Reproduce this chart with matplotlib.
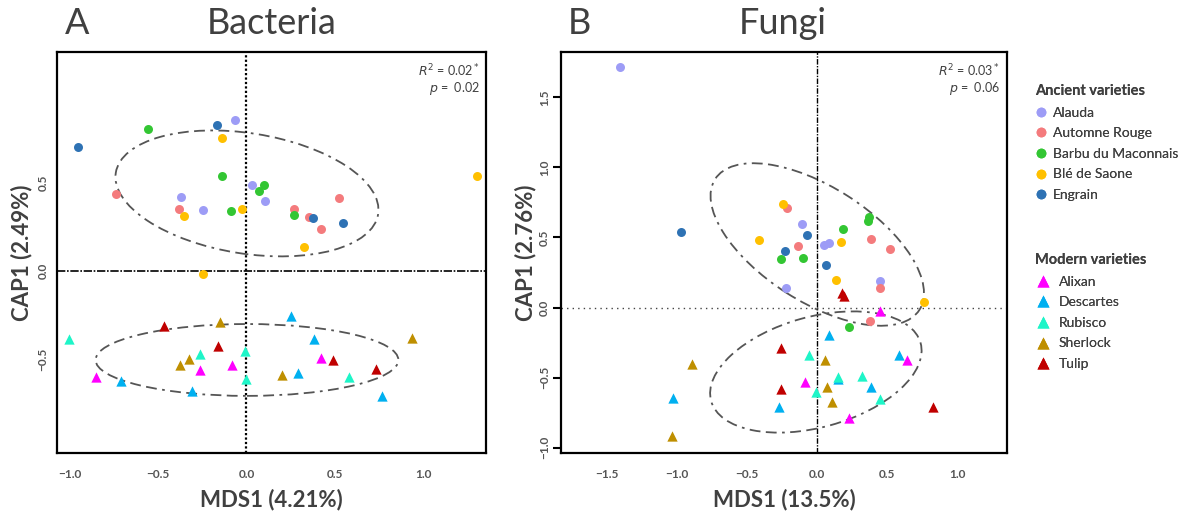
import matplotlib
matplotlib.use("Agg")
import matplotlib.pyplot as plt
from matplotlib.patches import Ellipse
from matplotlib.lines import Line2D

plt.rcParams['font.family'] = ['Lato', 'DejaVu Sans']

ancient = ['Alauda', 'Automne Rouge', 'Barbu du Maconnais', 'Blé de Saone', 'Engrain']
modern = ['Alixan', 'Descartes', 'Rubisco', 'Sherlock', 'Tulip']
colors = {
    'Alauda': '#9d9cf6', 'Automne Rouge': '#f47b7d', 'Barbu du Maconnais': '#33c633',
    'Blé de Saone': '#ffc000', 'Engrain': '#2e72b4',
    'Alixan': '#ff00ff', 'Descartes': '#00b0f0', 'Rubisco': '#1ef5c8',
    'Sherlock': '#bf8f00', 'Tulip': '#c00000',
}

# Bacteria (panel A)
bact_x = [-0.065, -0.37, -0.247, 0.029, 0.105,
          -0.739, -0.381, 0.267, 0.351, 0.421, 0.524,
          -0.556, -0.14, -0.089, 0.10, 0.072, 0.27,
          -0.14, -0.353, -0.025, 0.323, 1.304, -0.246,
          -0.954, -0.167, 0.376, 0.547,
          -0.849, -0.263, -0.084, 0.419,
          -0.711, -0.308, 0.251, 0.289, 0.383, 0.764,
          -1.001, -0.263, -0.007, -0.001, 0.577,
          -0.148, -0.374, -0.323, 0.202, 0.937,
          -0.468, -0.161, 0.49, 0.732]
bact_y = [0.855, 0.418, 0.345, 0.488, 0.397,
          0.437, 0.352, 0.348, 0.307, 0.237, 0.412,
          0.80, 0.537, 0.337, 0.486, 0.45, 0.318,
          0.75, 0.31, 0.352, 0.137, 0.538, -0.02,
          0.70, 0.825, 0.298, 0.273,
          -0.597, -0.557, -0.533, -0.49,
          -0.621, -0.676, -0.254, -0.574, -0.382, -0.706,
          -0.384, -0.471, -0.45, -0.612, -0.601,
          -0.29, -0.533, -0.495, -0.588, -0.38,
          -0.313, -0.424, -0.503, -0.552]
bact_grp = (['Alauda'] * 5 + ['Automne Rouge'] * 6 + ['Barbu du Maconnais'] * 6
            + ['Blé de Saone'] * 6 + ['Engrain'] * 4
            + ['Alixan'] * 4 + ['Descartes'] * 6 + ['Rubisco'] * 5
            + ['Sherlock'] * 5 + ['Tulip'] * 4)

# Fungi (panel B)
fung_x = [-1.409, -0.111, 0.048, 0.086, -0.226, 0.45,
          -0.214, -0.136, 0.381, 0.517, 0.45, 0.376,
          -0.261, -0.102, 0.184, 0.367, 0.36, 0.224,
          -0.243, -0.414, 0.169, 0.131, 0.76,
          -0.971, -0.071, -0.229, 0.06,
          0.445, 0.641, -0.086, 0.224,
          0.086, 0.584, 0.146, 0.381, -1.033, -0.276,
          -0.059, 0.15, 0.321, -0.009, 0.445,
          0.055, -0.895, 0.071, 0.105, -1.038,
          0.179, 0.19, -0.259, -0.257, 0.829]
fung_y = [1.714, 0.593, 0.446, 0.464, 0.141, 0.188,
          0.712, 0.436, 0.488, 0.421, 0.136, -0.097,
          0.346, 0.355, 0.56, 0.648, 0.62, -0.136,
          0.741, 0.484, 0.469, 0.198, 0.038,
          0.536, 0.521, 0.407, 0.305,
          -0.024, -0.374, -0.531, -0.786,
          -0.197, -0.338, -0.507, -0.569, -0.645, -0.712,
          -0.34, -0.493, -0.49, -0.602, -0.655,
          -0.374, -0.4, -0.569, -0.671, -0.919,
          0.103, 0.085, -0.288, -0.581, -0.707]
fung_grp = (['Alauda'] * 6 + ['Automne Rouge'] * 6 + ['Barbu du Maconnais'] * 6
            + ['Blé de Saone'] * 5 + ['Engrain'] * 4
            + ['Alixan'] * 4 + ['Descartes'] * 6 + ['Rubisco'] * 5
            + ['Sherlock'] * 5 + ['Tulip'] * 5)

# ellipses: centre x, centre y, semi-axis a, semi-axis b, angle (deg); ancient, modern
bact_ell = [(0.003, 0.438, 0.75, 0.34, -9), (0.003, -0.503, 0.855, 0.203, 0)]
fung_ell = [(0.0, 0.45, 0.866, 0.409, -32.6), (-0.01, -0.46, 0.776, 0.394, 15.5)]

txt_col = '#404040'
tick_col = '#555555'
fig = plt.figure(figsize=(12, 5.21), dpi=100)
axA = fig.add_axes([57 / 1200, 1 - 452.7 / 521, (486 - 57) / 1200, (452.7 - 52) / 521])
axB = fig.add_axes([561 / 1200, 1 - 452.7 / 521, (1007 - 561) / 1200, (452.7 - 52) / 521])


def draw(ax, xs, ys, grp, ells):
    for x, y, g in zip(xs, ys, grp):
        if g in ancient:
            ax.scatter(x, y, s=42, marker='o', color=colors[g], lw=0, zorder=3)
        else:
            ax.scatter(x, y, s=55, marker='^', color=colors[g], lw=0, zorder=3)
    for cx, cy, a, b, ang in ells:
        ax.add_patch(Ellipse((cx, cy), 2 * a, 2 * b, angle=ang, fill=False,
                             ec='#555555', lw=1.3, ls=(0, (6, 3, 6, 3, 1.5, 3)), zorder=2))
    for s in ax.spines.values():
        s.set_linewidth(1.6)
    ax.tick_params(axis='x', length=0, pad=12, labelsize=8.5, labelcolor=tick_col)


def style_yticks(ax):
    for lab in ax.get_yticklabels() + ax.get_xticklabels():
        lab.set_fontweight('bold')
    for lab in ax.get_yticklabels():
        lab.set_rotation(90)
        lab.set_va('center')


draw(axA, bact_x, bact_y, bact_grp, bact_ell)
axA.set_xlim(-1.07, 1.353)
axA.set_ylim(-1.027, 1.237)
axA.set_xticks([-1.0, -0.5, 0.0, 0.5, 1.0])
axA.set_yticks([-0.5, 0.0, 0.5])
axA.tick_params(axis='y', length=0, pad=6, labelsize=8.5, labelcolor=tick_col)
style_yticks(axA)
axA.axvline(0, color='k', lw=1.6, ls=(0, (1, 1)), zorder=1)
axA.axhline(0, color='k', lw=1.2, ls=(0, (5, 1, 1, 1)), zorder=1)
axA.text(0.985, 0.975, r'$R^2$ = 0.02$^*$', transform=axA.transAxes, ha='right', va='top',
         fontsize=9, color=txt_col)
axA.text(0.985, 0.93, r'$p$ =  0.02', transform=axA.transAxes, ha='right', va='top',
         fontsize=9, color=txt_col)
axA.set_xlabel('MDS1 (4.21%)', fontsize=16, fontweight='bold', color=txt_col, labelpad=6)
axA.set_ylabel('CAP1 (2.49%)', fontsize=16, fontweight='bold', color=txt_col, labelpad=4)

draw(axB, fung_x, fung_y, fung_grp, fung_ell)
axB.set_xlim(-1.83, 1.355)
axB.set_ylim(-1.036, 1.824)
axB.set_xticks([-1.5, -1.0, -0.5, 0.0, 0.5, 1.0])
axB.set_yticks([-1.0, -0.5, 0.0, 0.5, 1.0, 1.5])
axB.tick_params(axis='y', length=6, width=1.5, pad=2, labelsize=8.5, labelcolor=tick_col)
style_yticks(axB)
axB.axvline(0, color='k', lw=1.0, ls=(0, (4, 1, 1, 1)), zorder=1)
axB.axhline(0, color='#444444', lw=1.0, ls=(0, (1, 3)), zorder=1)
axB.text(0.985, 0.975, r'$R^2$ = 0.03$^*$', transform=axB.transAxes, ha='right', va='top',
         fontsize=9, color=txt_col)
axB.text(0.985, 0.93, r'$p$ =  0.06', transform=axB.transAxes, ha='right', va='top',
         fontsize=9, color=txt_col)
axB.set_xlabel('MDS1 (13.5%)', fontsize=16, fontweight='bold', color=txt_col, labelpad=6)
axB.set_ylabel('CAP1 (2.76%)', fontsize=16, fontweight='bold', color=txt_col, labelpad=2)

fig.text(65 / 1200, 1 - 24 / 521, 'A', fontsize=26, color=txt_col, va='center')
fig.text(272 / 1200, 1 - 24 / 521, 'Bacteria', fontsize=26, color=txt_col, va='center', ha='center')
fig.text(568 / 1200, 1 - 24 / 521, 'B', fontsize=26, color=txt_col, va='center')
fig.text(783 / 1200, 1 - 24 / 521, 'Fungi', fontsize=26, color=txt_col, va='center', ha='center')

h1 = [Line2D([], [], marker='o', ls='', ms=7, mec='none', color=colors[n]) for n in ancient]
h2 = [Line2D([], [], marker='^', ls='', ms=8, mec='none', color=colors[n]) for n in modern]
for handles, names, title, ytop, htl in [(h1, ancient, 'Ancient varieties', 1 - 77 / 521, 0.8),
                                         (h2, modern, 'Modern varieties', 1 - 246 / 521, 1.2)]:
    leg = fig.legend(handles, names, title=title, loc='upper left',
                     bbox_to_anchor=(1028 / 1200, ytop), frameon=False, fontsize=10,
                     handlelength=htl, handletextpad=0.5, labelspacing=0.62,
                     borderpad=0, title_fontproperties={'weight': 'bold', 'size': 10.5})
    leg._legend_box.align = 'left'
    leg.get_title().set_color(txt_col)
    for t in leg.get_texts():
        t.set_color(txt_col)
    fig.add_artist(leg)

fig.savefig('out.png', dpi=100)
